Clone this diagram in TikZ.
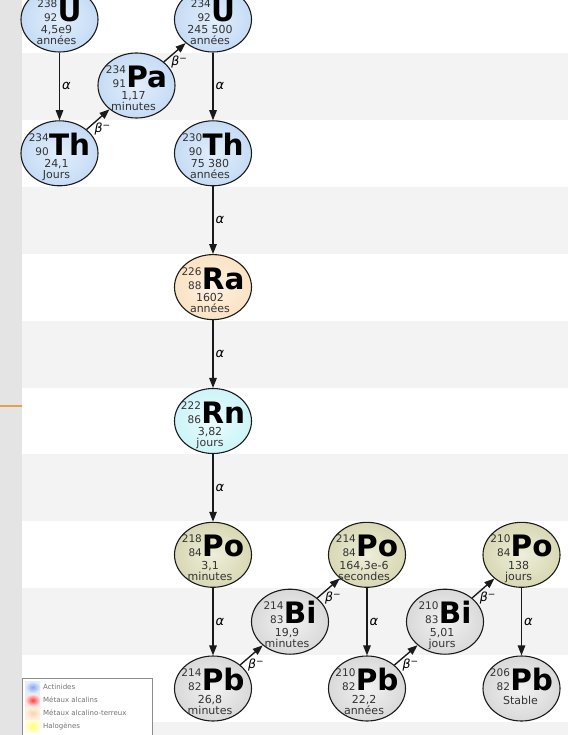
\documentclass[tikz,border=0pt]{standalone}
\usepackage{fontspec}
\setmainfont{DejaVu Sans}
\usetikzlibrary{shapes.geometric,arrows.meta,calc}
\definecolor{blIn}{HTML}{E2EEFB}\definecolor{blOut}{HTML}{AECDF0}
\definecolor{raIn}{HTML}{FEF1E2}\definecolor{raOut}{HTML}{F8D6A8}
\definecolor{rnIn}{HTML}{EAFCFD}\definecolor{rnOut}{HTML}{B4EEF3}
\definecolor{poIn}{HTML}{EEEEDA}\definecolor{poOut}{HTML}{C6C696}
\definecolor{gyIn}{HTML}{F2F2F2}\definecolor{gyOut}{HTML}{C4C4C4}
\definecolor{band}{HTML}{F3F3F3}
\definecolor{strip}{HTML}{E4E4E4}
\definecolor{txt}{HTML}{333333}
\definecolor{ink}{HTML}{1A1A1A}
\definecolor{orng}{HTML}{E6A04A}
\pgfdeclareradialshading{shActin}{\pgfpoint{0bp}{0bp}}{color(0bp)=(blIn); color(46bp)=(blOut); color(50bp)=(blOut)}
\pgfdeclareradialshading{shRa}{\pgfpoint{0bp}{0bp}}{color(0bp)=(raIn); color(46bp)=(raOut); color(50bp)=(raOut)}
\pgfdeclareradialshading{shRn}{\pgfpoint{0bp}{0bp}}{color(0bp)=(rnIn); color(46bp)=(rnOut); color(50bp)=(rnOut)}
\pgfdeclareradialshading{shPo}{\pgfpoint{0bp}{0bp}}{color(0bp)=(poIn); color(46bp)=(poOut); color(50bp)=(poOut)}
\pgfdeclareradialshading{shGy}{\pgfpoint{0bp}{0bp}}{color(0bp)=(gyIn); color(46bp)=(gyOut); color(50bp)=(gyOut)}
\newcommand\isoBox[3]{{\fontsize{10.5}{14}\selectfont\color{txt}\vbox{\halign{\hfil##\cr#1\cr#2\cr}}}\kern0.3pt{\fontsize{29.5}{30}\selectfont\bfseries#3}}
\newcommand\nuc[9]{%
  \node[nucl,shading=#4] (#1) at (#2,#3) {};
  \node[symb] (#1-s) at ($(#1.center)+(0,2)$) {\isoBox{#5}{#6}{#7}};
  \node[hl] (#1-h) at ($(#1.center)+(-3,14.5)$) {#8};
  \node[hl] (#1-d) at ($(#1.center)+(-3,25.5)$) {#9};
}
\newcommand\betam{\textit{β}\raisebox{4pt}{\fontsize{9}{9}\selectfont −}}
\begin{document}
\begin{tikzpicture}[x=1pt,y=-1pt,
  nucl/.style={ellipse,draw=ink,line width=1.1pt,minimum width=77pt,minimum height=65pt,inner sep=0pt,shade},
  symb/.style={anchor=base,inner sep=0pt},
  hl/.style={anchor=base,inner sep=0pt,text=txt,font=\fontsize{11}{12}\selectfont},
  arr/.style={draw=ink,line width=1.35pt,-{Triangle[length=10pt,width=7.5pt]}},
  alab/.style={midway,anchor=west,xshift=2pt,inner sep=0pt,font=\fontsize{13}{14}\selectfont\itshape},
  blab/.style={midway,anchor=north west,xshift=-4pt,yshift=-3pt,inner sep=0pt,font=\fontsize{12.5}{13}\selectfont},
  legsq/.style={minimum width=15pt,minimum height=12pt,inner sep=0pt,anchor=north west},
  legtx/.style={anchor=west,inner sep=0pt,text=black!55,font=\fontsize{7}{8}\selectfont}]
\useasboundingbox (0,0) rectangle (568,735);
% background
\fill[white] (0,0) rectangle (568,735);
\foreach \j in {0,2,4,6,8} {\fill[band] (22,{53+66.9*\j}) rectangle (568,{53+66.9*(\j+1)});}
\fill[band] (22,722) rectangle (568,735);
\fill[strip] (0,0) rectangle (22,735);
\fill[orng] (0,405) rectangle (22,407.3);
% nuclides
\nuc{U238}{59.5}{19.5}{shActin}{238}{92}{U}{4,5e9}{années}
\nuc{Th234}{59.5}{153.3}{shActin}{234}{90}{Th}{24,1}{Jours}
\nuc{Pa234}{136.5}{85.5}{shActin}{234}{91}{Pa}{1,17}{minutes}
\nuc{U234}{213}{19.5}{shActin}{234}{92}{U}{245 500}{années}
\nuc{Th230}{213}{153.3}{shActin}{230}{90}{Th}{75 380}{années}
\nuc{Ra226}{213}{287.1}{shRa}{226}{88}{Ra}{1602}{années}
\nuc{Rn222}{213}{421}{shRn}{222}{86}{Rn}{3,82}{jours}
\nuc{Po218}{213}{554.8}{shPo}{218}{84}{Po}{3,1}{minutes}
\nuc{Pb214}{213}{688.5}{shGy}{214}{82}{Pb}{26,8}{minutes}
\nuc{Bi214}{290}{621.7}{shGy}{214}{83}{Bi}{19,9}{minutes}
\nuc{Po214}{367}{554.8}{shPo}{214}{84}{Po}{164,3e-6}{secondes}
\nuc{Pb210}{367}{688.5}{shGy}{210}{82}{Pb}{22,2}{années}
\nuc{Bi210}{445}{621.7}{shGy}{210}{83}{Bi}{5,01}{jours}
\nuc{Po210}{521.5}{554.8}{shPo}{210}{84}{Po}{138}{jours}
\node[nucl,shading=shGy] (Pb206) at (521.5,688.5) {};
\node[symb] (Pb206-s) at ($(Pb206.center)+(0,2)$) {\isoBox{206}{82}{Pb}};
\node[hl] (Pb206-h) at ($(Pb206.center)+(-1,16)$) {Stable};
% decays
\draw[arr] (U238) -- node[alab]{α} (Th234);
\draw[arr] (U234) -- node[alab]{α} (Th230);
\draw[arr] (Th230) -- node[alab]{α} (Ra226);
\draw[arr] (Ra226) -- node[alab]{α} (Rn222);
\draw[arr] (Rn222) -- node[alab]{α} (Po218);
\draw[arr] (Po218) -- node[alab]{α} (Pb214);
\draw[arr] (Po214) -- node[alab]{α} (Pb210);
\draw[arr] (Po210) -- node[alab]{α} (Pb206);
\draw[arr] (Th234) -- node[blab]{\betam} (Pa234);
\draw[arr] (Pa234) -- node[blab]{\betam} (U234);
\draw[arr] (Pb214) -- node[blab]{\betam} (Bi214);
\draw[arr] (Bi214) -- node[blab]{\betam} (Po214);
\draw[arr] (Pb210) -- node[blab]{\betam} (Bi210);
\draw[arr] (Bi210) -- node[blab]{\betam} (Po210);
% legend
\node[draw=black!45,line width=0.8pt,fill=white,minimum width=130pt,minimum height=62pt,anchor=north west,inner sep=0pt] (leg) at (22,678) {};
\node[legsq,inner color=blOut!80!blue,outer color=blIn] (lq1) at (25,681) {};
\node[legsq,inner color=red!75,outer color=red!10] (lq2) at (25,694) {};
\node[legsq,inner color=raOut,outer color=raIn] (lq3) at (25,707) {};
\node[legsq,inner color=yellow!55,outer color=yellow!15] (lq4) at (25,720) {};
\node[legtx] (lt1) at (43,687) {Actinides};
\node[legtx] (lt2) at (43,700) {Métaux alcalins};
\node[legtx] (lt3) at (43,713) {Métaux alcalino-terreux};
\node[legtx] (lt4) at (43,726) {Halogènes};
\end{tikzpicture}
\end{document}
